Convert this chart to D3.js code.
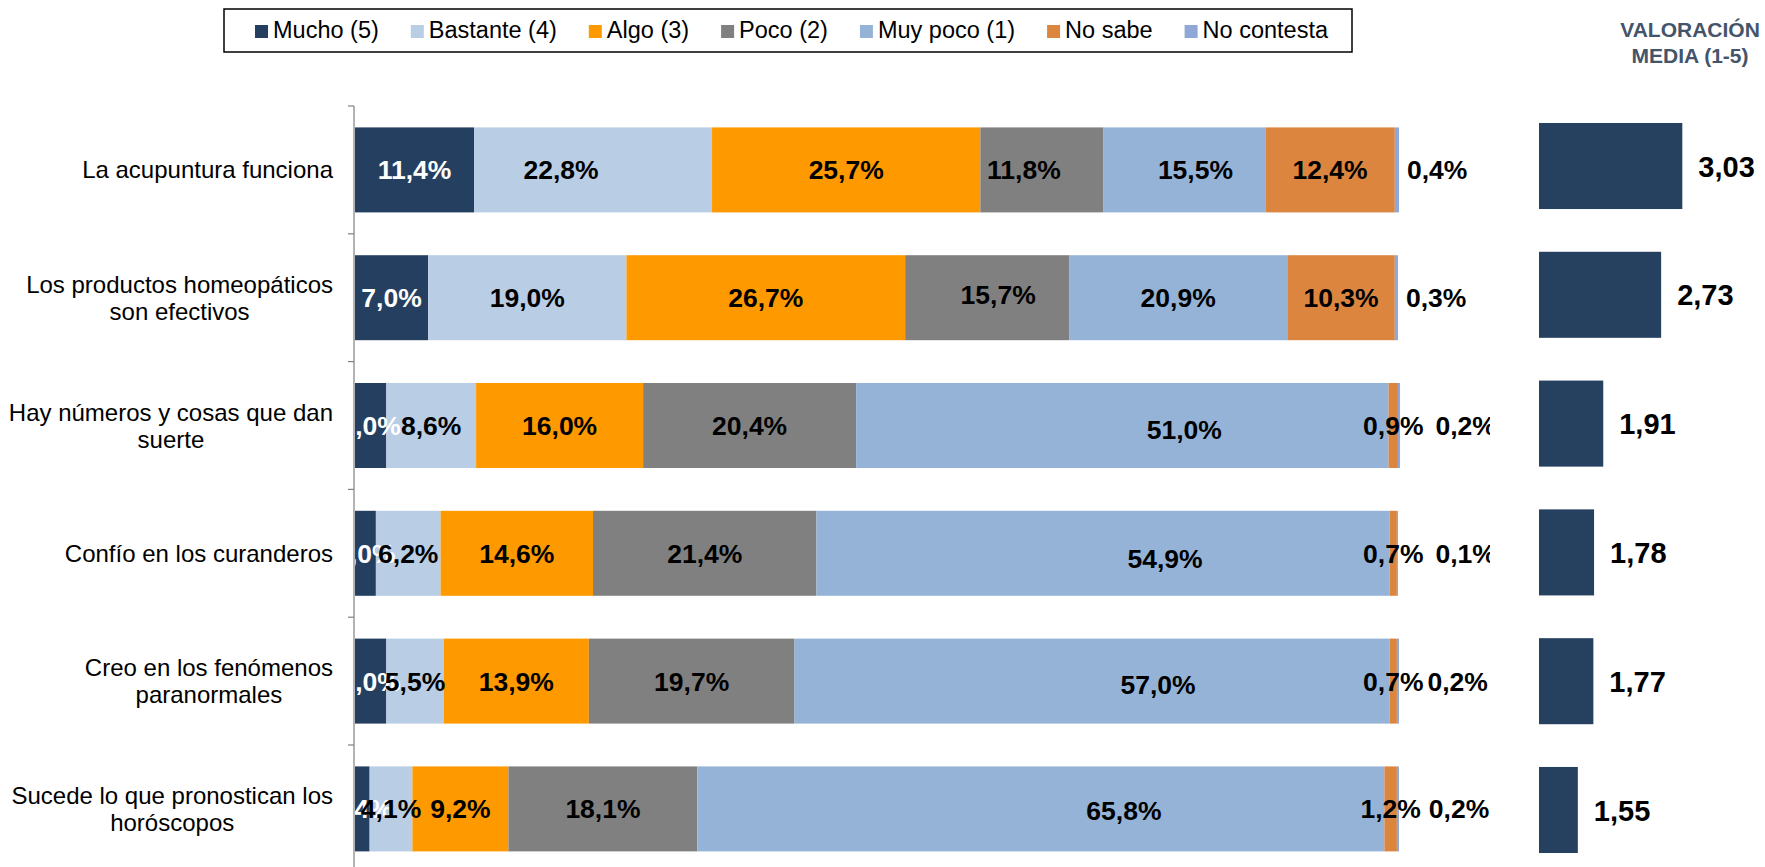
<!DOCTYPE html>
<html lang="es">
<head>
<meta charset="utf-8">
<script src="https://cdn.jsdelivr.net/npm/d3@7"></script>
<style>
  html, body { margin: 0; padding: 0; background: #ffffff; }
  svg { display: block; font-family: Arial, "Liberation Sans", sans-serif; }
</style>
</head>
<body>
<svg id="chart" width="1765" height="867"></svg>
<script>
// Survey statements (line breaks mark how each label wraps)
const categories = [
  "La acupuntura funciona",
  "Los productos homeopáticos\nson efectivos",
  "Hay números y cosas que dan\nsuerte",
  "Confío en los curanderos",
  "Creo en los fenómenos\nparanormales",
  "Sucede lo que pronostican los\nhoróscopos"
];

const seriesNames = ["Mucho (5)", "Bastante (4)", "Algo (3)", "Poco (2)", "Muy poco (1)", "No sabe", "No contesta"];

// Share of answers (%) per statement
const mucho      = [11.4,  7.0,  3.0,  2.0,  3.0,  1.4];
const bastante   = [22.8, 19.0,  8.6,  6.2,  5.5,  4.1];
const algo       = [25.7, 26.7, 16.0, 14.6, 13.9,  9.2];
const poco       = [11.8, 15.7, 20.4, 21.4, 19.7, 18.1];
const muyPoco    = [15.5, 20.9, 51.0, 54.9, 57.0, 65.8];
const noSabe     = [12.4, 10.3,  0.9,  0.7,  0.7,  1.2];
const noContesta = [ 0.4,  0.3,  0.2,  0.1,  0.2,  0.2];

// Mean rating on the 1-5 scale
const valoracionMedia = [3.03, 2.73, 1.91, 1.78, 1.77, 1.55];

const headerLines = ["VALORACIÓN", "MEDIA (1-5)"];

const seriesColors = ["#253f61", "#b9cde5", "#ff9900", "#808080", "#95b3d7", "#dc853f", "#8fa8d8"];
const labelColors  = ["#ffffff", "#000000", "#000000", "#000000", "#000000", "#000000", "#000000"];

// Hand-placed label offsets (px), keyed "row-series"
const labelNudge = {
  "0-1": [-32, 0], "0-3": [-18, 0], "0-4": [11, 0],
  "1-3": [11, -3],
  "2-4": [62, 4], "3-4": [62, 5], "4-4": [66, 3], "5-4": [83, 2],
  "2-6": [4, 0], "3-6": [4, 0], "4-6": [-4, 0]
};

const seriesValues = [mucho, bastante, algo, poco, muyPoco, noSabe, noContesta];

const es = d3.formatLocale({ decimal: ",", thousands: ".", grouping: [3], currency: ["", " €"] });
const pct = v => es.format(".1f")(v) + "%";
const dec2 = es.format(".2f");

const svg = d3.select("#chart");
const FONT = 'Arial, "Liberation Sans", sans-serif';

// ---------- stacked 100% bars ----------
const x = d3.scaleLinear().domain([0, 100]).range([355, 1399]);
const y = d3.scaleBand().domain(d3.range(categories.length))
  .range([106, 106 + 127.8 * categories.length]).paddingInner(0.335).paddingOuter(0.1675);

const rows = categories.map((c, i) => {
  let acc = 0;
  return seriesValues.map((arr, s) => {
    const seg = { row: i, s, v: arr[i], x0: acc, x1: acc + arr[i] };
    acc += arr[i];
    return seg;
  });
});
const segments = rows.flat();

svg.append("defs").append("clipPath").attr("id", "plotClip")
  .append("rect").attr("x", 355).attr("y", 0).attr("width", 1490 - 355).attr("height", 867);

const bars = svg.append("g");
bars.selectAll("rect").data(segments).join("rect")
  .attr("x", d => x(d.x0))
  .attr("y", d => y(d.row))
  .attr("width", d => x(d.x1) - x(d.x0))
  .attr("height", y.bandwidth())
  .attr("fill", d => seriesColors[d.s]);

// category axis
const axisX = 354;
const axis = svg.append("g").attr("stroke", "#808080").attr("stroke-width", 1.2);
axis.append("line").attr("x1", axisX).attr("x2", axisX).attr("y1", 106).attr("y2", 867 + 10);
axis.selectAll("line.tick").data(d3.range(categories.length + 1)).join("line")
  .attr("class", "tick")
  .attr("x1", axisX - 6).attr("x2", axisX)
  .attr("y1", i => 106 + i * y.step()).attr("y2", i => 106 + i * y.step());

// category labels: lines centred on each other, block right-aligned
const catG = svg.append("g").attr("font-family", FONT).attr("font-size", 24).attr("fill", "#000");
categories.forEach((c, i) => {
  const lines = c.split("\n");
  const cy = y(i) + y.bandwidth() / 2;
  const t = catG.append("text").attr("text-anchor", "middle");
  const lh = 27;
  const first = cy - (lines.length - 1) * lh / 2 + 8.5;
  lines.forEach((ln, k) => {
    t.append("tspan").attr("y", first + k * lh).text(ln);
  });
  let w = 0;
  t.selectAll("tspan").each(function () { w = Math.max(w, this.getComputedTextLength()); });
  t.selectAll("tspan").attr("x", 333 - w / 2);
});

// value labels, drawn in series order so later ones sit on top
const lab = svg.append("g").attr("clip-path", "url(#plotClip)")
  .attr("font-family", FONT).attr("font-size", 26.5).attr("font-weight", "bold");
rows.forEach(segs => {
  let lastRight = -Infinity;
  segs.forEach(d => {
    const nudge = labelNudge[d.row + "-" + d.s] || [0, 0];
    const cy = y(d.row) + y.bandwidth() / 2 + 9.5 + nudge[1];
    const t = lab.append("text").attr("y", cy).attr("fill", labelColors[d.s]).text(pct(d.v));
    if (d.s === seriesValues.length - 1) {
      const start = Math.max(x(d.x1) + 8, lastRight + 8) + nudge[0];
      t.attr("x", start).attr("text-anchor", "start");
    } else {
      const cx = (x(d.x0) + x(d.x1)) / 2 + nudge[0];
      t.attr("x", cx).attr("text-anchor", "middle");
      lastRight = cx + t.node().getComputedTextLength() / 2;
    }
  });
});

// ---------- legend ----------
const leg = svg.append("g").attr("font-family", FONT).attr("font-size", 23.5);
leg.append("rect").attr("x", 224).attr("y", 9).attr("width", 1352 - 224).attr("height", 43)
  .attr("fill", "#fff").attr("stroke", "#000").attr("stroke-width", 1.5);
let lx = 255;
seriesNames.forEach((name, s) => {
  leg.append("rect").attr("x", lx).attr("y", 25).attr("width", 13).attr("height", 13).attr("fill", seriesColors[s]);
  const t = leg.append("text").attr("x", lx + 18).attr("y", 37.5).attr("fill", "#000").text(name);
  lx = lx + 18 + t.node().getComputedTextLength() + 32;
});

// ---------- mean rating bars ----------
const xm = d3.scaleLinear().domain([1, 5]).range([1539, 1539 + 4 * 70.6]);
const ym = d3.scaleBand().domain(d3.range(categories.length))
  .range([101.6, 101.6 + 128.8 * categories.length]).paddingInner(0.332).paddingOuter(0.166);

const mg = svg.append("g");
mg.selectAll("rect").data(valoracionMedia).join("rect")
  .attr("x", xm(1))
  .attr("y", (d, i) => ym(i))
  .attr("width", d => xm(d) - xm(1))
  .attr("height", ym.bandwidth())
  .attr("fill", "#26405f");
mg.selectAll("text").data(valoracionMedia).join("text")
  .attr("x", d => xm(d) + 16)
  .attr("y", (d, i) => ym(i) + ym.bandwidth() / 2 + 10.5)
  .attr("font-family", FONT).attr("font-size", 29).attr("font-weight", "bold").attr("fill", "#000")
  .text(d => dec2(d));

svg.append("g").attr("font-family", FONT).attr("font-size", 21).attr("font-weight", "bold")
  .attr("fill", "#44546a").attr("text-anchor", "middle")
  .selectAll("text").data(headerLines).join("text")
  .attr("x", 1690).attr("y", (d, i) => 37 + i * 26).text(d => d);
</script>
</body>
</html>
